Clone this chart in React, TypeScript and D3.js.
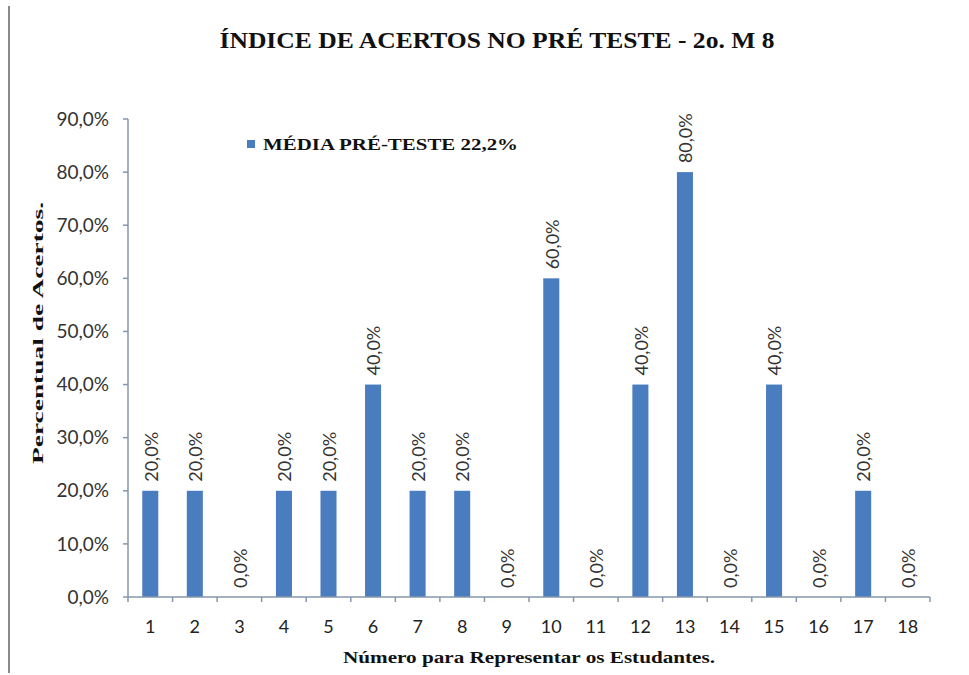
import React from "react";
import * as d3 from "d3";

const students = ["1","2","3","4","5","6","7","8","9","10","11","12","13","14","15","16","17","18"];
const scores = [20, 20, 0, 20, 20, 40, 20, 20, 0, 60, 0, 40, 80, 0, 40, 0, 20, 0];
const yTicks = [0, 10, 20, 30, 40, 50, 60, 70, 80, 90];
const title = "ÍNDICE DE ACERTOS NO PRÉ TESTE - 2o. M 8";
const legendLabel = "MÉDIA PRÉ-TESTE 22,2%";
const yTitle = "Percentual de Acertos.";
const xTitle = "Número para Representar os Estudantes.";

const W = 969, H = 675;
const left = 128, right = 930, top = 119, bottom = 597;
const barColor = "#4a7dbf";
const axisColor = "#8497ad";
const sans = "Lato, 'Open Sans', sans-serif";
const serif = "'Liberation Serif', 'DejaVu Serif', serif";

const fmt = (v: number) => v.toFixed(1).replace(".", ",") + "%";

export default function App() {
  const x = d3.scaleBand<string>().domain(students).range([left, right]).paddingInner(0.64).paddingOuter(0.32);
  const y = d3.scaleLinear().domain([0, 90]).range([bottom, top]);
  const step = x.step();
  const boundaries = d3.range(students.length + 1).map((i) => left + i * step);

  return (
    <svg width={W} height={H} style={{ position: "absolute", left: 0, top: 0, background: "#fff" }}>
      <rect x={0} y={0} width={W} height={H} fill="#fff" />
      <line x1={9} x2={9} y1={6} y2={673} stroke="#8a8a8a" strokeWidth={2} />
      <text x={497} y={48} textAnchor="middle" fontFamily={serif} fontWeight="bold" fontSize={24} fill="#111"
        textLength={555} lengthAdjust="spacingAndGlyphs">{title}</text>

      {/* y axis */}
      <line x1={left} x2={left} y1={top} y2={bottom} stroke={axisColor} strokeWidth={1.5} />
      {yTicks.map((t) => (
        <g key={t}>
          <line x1={left - 5} x2={left} y1={y(t)} y2={y(t)} stroke={axisColor} strokeWidth={1.5} />
          <text x={109} y={y(t)} dy="0.35em" textAnchor="end" fontFamily={sans} fontSize={19} fill="#333">{fmt(t)}</text>
        </g>
      ))}

      {/* bars */}
      {scores.map((v, i) => {
        const cx = (x(students[i]) as number) + x.bandwidth() / 2;
        return (
          <g key={i}>
            <rect x={x(students[i])} y={y(v)} width={x.bandwidth()} height={bottom - y(v)} fill={barColor} />
            <text transform={`translate(${cx + 1},${y(v) - 9}) rotate(-90)`} dy="0.35em" textAnchor="start"
              fontFamily={sans} fontSize={18} fill="#333">{fmt(v)}</text>
          </g>
        );
      })}

      {/* x axis */}
      <line x1={left} x2={right} y1={bottom} y2={bottom} stroke={axisColor} strokeWidth={1.5} />
      {boundaries.map((bx, i) => (
        <line key={i} x1={bx} x2={bx} y1={bottom} y2={bottom + 5} stroke={axisColor} strokeWidth={1.5} />
      ))}
      {students.map((s) => (
        <text key={s} x={(x(s) as number) + x.bandwidth() / 2} y={627} dy="0.35em" textAnchor="middle"
          fontFamily={sans} fontSize={18} fill="#222">{s}</text>
      ))}

      {/* legend */}
      <rect x={247} y={140} width={8} height={8} fill={barColor} />
      <text x={263} y={150} fontFamily={serif} fontWeight="bold" fontSize={16} fill="#111"
        textLength={255} lengthAdjust="spacingAndGlyphs">{legendLabel}</text>

      {/* axis titles */}
      <text transform={`translate(43,333) rotate(-90)`} textAnchor="middle" fontFamily={serif} fontWeight="bold"
        fontSize={15} fill="#111" textLength={262} lengthAdjust="spacingAndGlyphs">{yTitle}</text>
      <text x={529} y={663} textAnchor="middle" fontFamily={serif} fontWeight="bold" fontSize={16} fill="#111"
        textLength={372} lengthAdjust="spacingAndGlyphs">{xTitle}</text>
    </svg>
  );
}
